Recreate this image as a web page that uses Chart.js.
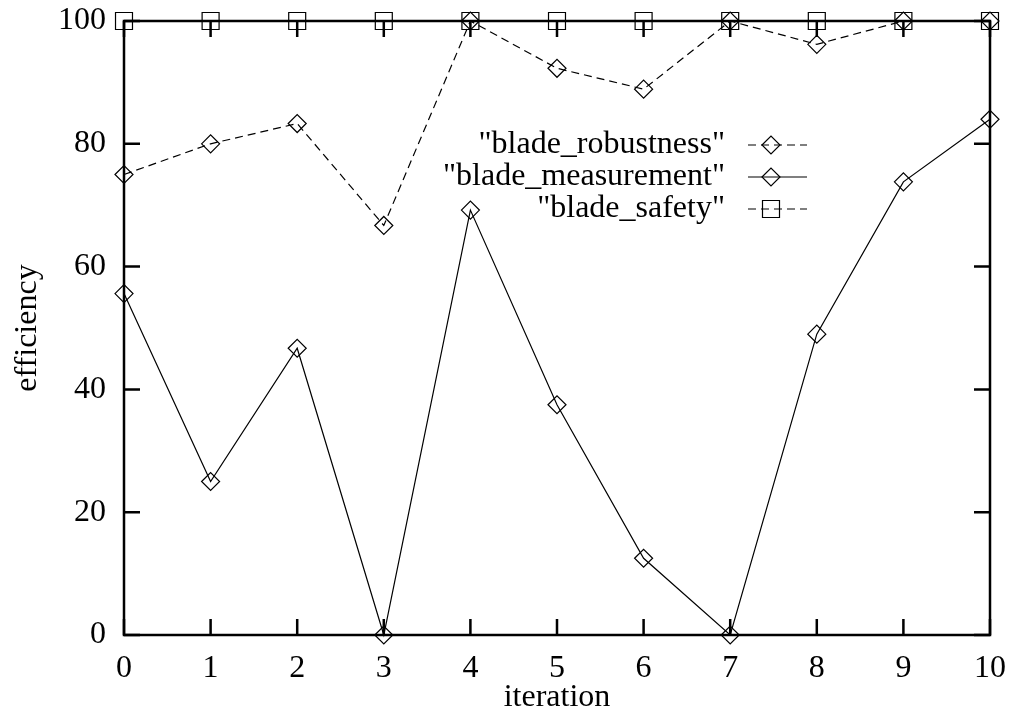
<!DOCTYPE html>
<html>
<head>
<meta charset="utf-8">
<script src="https://cdn.jsdelivr.net/npm/chart.js@4/dist/chart.umd.min.js"></script>
<style>
    body { margin: 0; background: #fff; }
    #wrap { width: 1013px; height: 717px; }
</style>
</head>
<body>
<div id="wrap"><canvas id="effChart"></canvas></div>
<script>
// data
const iterations = [0, 1, 2, 3, 4, 5, 6, 7, 8, 9, 10];
const robustness = [75, 80, 83.3, 66.7, 100, 92.3, 88.9, 100, 96.2, 100, 100];
const measurement = [55.6, 25, 46.7, 0, 69.2, 37.5, 12.5, 0, 49, 73.8, 84];
const safety = [100, 100, 100, 100, 100, 100, 100, 100, 100, 100, 100];
const xTicks = [0, 1, 2, 3, 4, 5, 6, 7, 8, 9, 10];
const yTicks = [0, 20, 40, 60, 80, 100];

const FONT = 'Liberation Serif';
Chart.defaults.color = '#000';
Chart.defaults.font.family = FONT;
Chart.defaults.font.size = 32;

function pairs(values){
    return iterations.map((x, i) => ({x: x, y: values[i]}));
}

// let the layout padding alone decide where the box sits
function noOverhang(s){
    s.paddingTop = 0; s.paddingBottom = 0;
    s.paddingLeft = 0; s.paddingRight = 0;
}

// gnuplot style box with ticks pointing inwards on all four sides
const frameBox = {
    id: 'frameBox',
    beforeDatasetsDraw(chart){
        const {ctx, chartArea: a, scales} = chart;
        const tick = 16;
        ctx.save();
        ctx.strokeStyle = '#000';
        ctx.lineWidth = 2.5;
        ctx.beginPath();
        for (let v of xTicks){
            let px = scales.x.getPixelForValue(v);
            ctx.moveTo(px, a.bottom); ctx.lineTo(px, a.bottom - tick);
            ctx.moveTo(px, a.top); ctx.lineTo(px, a.top + tick);
        }
        for (let v of yTicks){
            let py = scales.y.getPixelForValue(v);
            ctx.moveTo(a.left, py); ctx.lineTo(a.left + tick, py);
            ctx.moveTo(a.right, py); ctx.lineTo(a.right - tick, py);
        }
        ctx.stroke();
        ctx.strokeRect(a.left, a.top, a.right - a.left, a.bottom - a.top);
        ctx.restore();
    }
};

// key in the gnuplot layout: text right aligned, sample on the right
function marker(ctx, style, x, y){
    ctx.beginPath();
    if (style === 'rect'){
        ctx.rect(x - 8.5, y - 8.5, 17, 17);
    } else {
        ctx.moveTo(x - 9, y); ctx.lineTo(x, y - 9);
        ctx.lineTo(x + 9, y); ctx.lineTo(x, y + 9);
        ctx.closePath();
    }
    ctx.setLineDash([]);
    ctx.stroke();
}

const gnuKey = {
    id: 'gnuKey',
    afterDraw(chart){
        const ctx = chart.ctx;
        const textRight = 725, lineFrom = 748, lineTo = 807;
        ctx.save();
        ctx.font = '32px "' + FONT + '"';
        ctx.textAlign = 'right';
        ctx.textBaseline = 'middle';
        chart.data.datasets.forEach((ds, i) => {
            let y = 145 + i * 32;
            ctx.fillStyle = '#000';
            ctx.fillText(ds.label, textRight, y);
            ctx.strokeStyle = '#000';
            ctx.lineWidth = 1.2;
            ctx.setLineDash(ds.borderDash || []);
            ctx.beginPath();
            ctx.moveTo(lineFrom, y); ctx.lineTo(lineTo, y);
            ctx.stroke();
            marker(ctx, ds.pointStyle, 771, y);
        });
        ctx.restore();
    }
};

const ctx = document.getElementById('effChart');
let effChart = new Chart(ctx, {
    type: 'line',
    data: {
        datasets: [
            {
                label: '"blade_robustness"',
                data: pairs(robustness),
                borderColor: '#000',
                borderWidth: 1.2,
                borderDash: [8, 5],
                pointStyle: 'rectRot',
                pointRadius: 9,
                pointBorderWidth: 1.2,
                pointBackgroundColor: 'rgba(0,0,0,0)',
                pointBorderColor: '#000',
                tension: 0,
            },
            {
                label: '"blade_measurement"',
                data: pairs(measurement),
                borderColor: '#000',
                borderWidth: 1.2,
                pointStyle: 'rectRot',
                pointRadius: 9,
                pointBorderWidth: 1.2,
                pointBackgroundColor: 'rgba(0,0,0,0)',
                pointBorderColor: '#000',
                tension: 0,
            },
            {
                label: '"blade_safety"',
                data: pairs(safety),
                borderColor: '#000',
                borderWidth: 1.2,
                borderDash: [8, 5],
                pointStyle: 'rect',
                pointRadius: 12,
                pointBorderWidth: 1.2,
                pointBackgroundColor: 'rgba(0,0,0,0)',
                pointBorderColor: '#000',
                tension: 0,
            }
        ]
    },
    options: {
        responsive: true,
        maintainAspectRatio: false,
        animation: false,
        clip: false,
        layout: { padding: { left: 0, top: 21, right: 23, bottom: 0 } },
        scales: {
            x: {
                type: 'linear',
                min: 0,
                max: 10,
                afterBuildTicks: s => { s.ticks = xTicks.map(v => ({value: v})); },
                afterFit: s => { s.height = 82; noOverhang(s); },
                grid: { display: false, drawTicks: false },
                border: { display: false },
                ticks: { padding: 14, maxRotation: 0 },
                title: { display: true, text: 'iteration', padding: { top: 0, bottom: 0 } },
            },
            y: {
                min: 0,
                max: 100,
                afterBuildTicks: s => { s.ticks = yTicks.map(v => ({value: v})); },
                afterFit: s => { s.width = 124; noOverhang(s); },
                grid: { display: false, drawTicks: false },
                border: { display: false },
                ticks: { padding: 18 },
                title: { display: true, text: 'efficiency', padding: { top: 8, bottom: 0 } },
            },
        },
        plugins: {
            legend: { display: false },
            tooltip: { enabled: false },
        }
    },
    plugins: [frameBox, gnuKey]
});
</script>
</body>
</html>
